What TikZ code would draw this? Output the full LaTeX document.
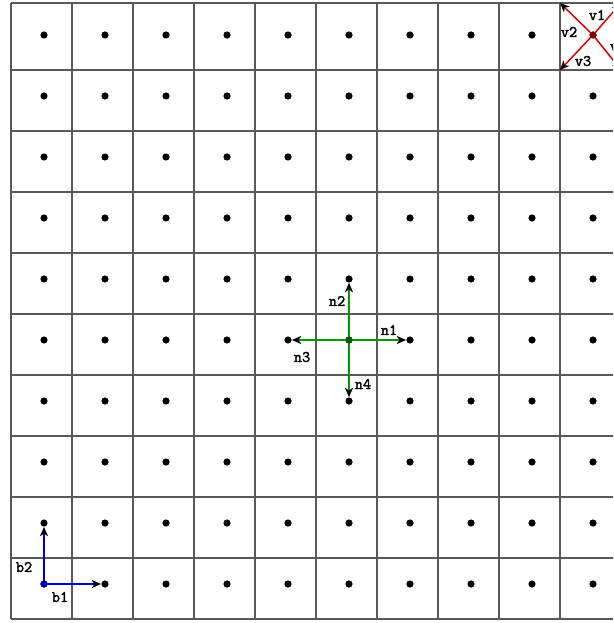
\documentclass[tikz,border=0pt]{standalone}
\usepackage{fontspec}
\newfontfamily\lblfont[FakeBold=2]{Latin Modern Mono}
\usetikzlibrary{arrows.meta}

\begin{document}
\begin{tikzpicture}[
  x=0.75pt, y=-0.75pt,
  gridline/.style={draw=black!65, line width=1.1pt},
  dot/.style={circle, fill=black, inner sep=0pt, minimum size=5.4pt},
  vec/.style={line width=1.5pt, -{Stealth[black, length=7pt, width=6pt, inset=2pt]}},
  lbl/.style={font=\lblfont\fontsize{12}{14}\selectfont, inner sep=0pt}]
\useasboundingbox (0,0) rectangle (613,623);
\clip (0,0) rectangle (613,623);
% lattice cells
\draw[gridline] (11,3) -- (621,3);
\foreach \k in {0,...,9}
  \draw[gridline] (11,{70+61*\k}) -- (621,{70+61*\k});
\foreach \k in {0,...,10}
  \draw[gridline] ({11+61*\k},3) -- ({11+61*\k},619);
% lattice points
\foreach \i in {0,...,9}
  \foreach \j in {0,...,9}
    \node[dot] (d-\i-\j) at ({44+61*\i},{35+61*\j}) {};
% basis vectors
\draw[vec, blue!80!black] (d-0-9.center) -- (d-1-9);
\draw[vec, blue!80!black] (d-0-9.center) -- (d-0-8);
\fill[blue!70!black] (d-0-9) circle (2.7pt);
\node[lbl] (b1) at (60,597) {b1};
\node[lbl] (b2) at (24,567) {b2};
% nearest neighbours
\draw[vec, green!60!black] (d-5-5.center) -- (d-6-5);
\draw[vec, green!60!black] (d-5-5.center) -- (d-5-4);
\draw[vec, green!60!black] (d-5-5.center) -- (d-4-5);
\draw[vec, green!60!black] (d-5-5.center) -- (d-5-6);
\fill[green!35!black] (d-5-5) circle (2.7pt);
\node[lbl] (n1) at (389,330) {n1};
\node[lbl] (n2) at (337,301) {n2};
\node[lbl] (n3) at (302,357) {n3};
\node[lbl] (n4) at (363,384) {n4};
% cell corners
\coordinate (c-v1) at (621,3);
\coordinate (c-v2) at (560,3);
\coordinate (c-v3) at (560,70);
\coordinate (c-v4) at (621,70);
\foreach \v in {v1,v2,v3,v4}
  \draw[vec, red!90!black, line width=1.1pt] (d-9-0.center) -- (c-\v);
\fill[red!50!black] (d-9-0) circle (2.5pt);
\node[lbl] (v1) at (597,15) {v1};
\node[lbl] (v2) at (569,32) {v2};
\node[lbl] (v3) at (583,61) {v3};
\node[lbl] (v4) at (618,46) {v4};
\end{tikzpicture}
\end{document}
